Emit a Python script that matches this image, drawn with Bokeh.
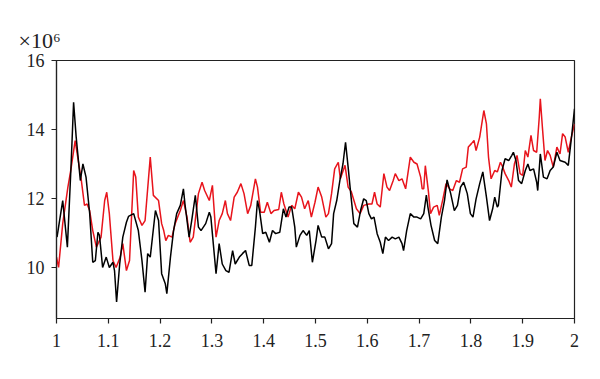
from bokeh.plotting import figure
from bokeh.models import Range1d, FixedTicker, Title
from bokeh.embed import file_html
from bokeh.resources import INLINE

# x positions and values (×10^6) of the black series
black_x = [1.001, 1.012, 1.021, 1.028, 1.033, 1.038, 1.046, 1.051, 1.057, 1.064,
           1.070, 1.075, 1.080, 1.083, 1.089, 1.096, 1.102, 1.109, 1.112, 1.116,
           1.122, 1.128, 1.135, 1.139, 1.149, 1.158, 1.165, 1.171, 1.176, 1.181,
           1.191, 1.197, 1.203, 1.210, 1.213, 1.220, 1.226, 1.232, 1.239, 1.245,
           1.248, 1.256, 1.261, 1.268, 1.274, 1.279, 1.288, 1.295, 1.298, 1.308,
           1.314, 1.320, 1.327, 1.333, 1.340, 1.345, 1.353, 1.359, 1.365, 1.372,
           1.377, 1.384, 1.388, 1.392, 1.398, 1.404, 1.411, 1.417, 1.423, 1.431,
           1.438, 1.443, 1.449, 1.454, 1.460, 1.463, 1.470, 1.476, 1.483, 1.488,
           1.494, 1.501, 1.505, 1.512, 1.518, 1.525, 1.531, 1.535, 1.541, 1.547,
           1.553, 1.558, 1.563, 1.568, 1.574, 1.581, 1.587, 1.593, 1.598, 1.603,
           1.608, 1.613, 1.619, 1.625, 1.630, 1.635, 1.641, 1.648, 1.654, 1.661,
           1.667, 1.670, 1.676, 1.683, 1.690, 1.696, 1.703, 1.709, 1.714, 1.717,
           1.723, 1.730, 1.736, 1.743, 1.749, 1.754, 1.761, 1.768, 1.774, 1.780,
           1.786, 1.793, 1.799, 1.804, 1.810, 1.817, 1.823, 1.830, 1.836, 1.842,
           1.846, 1.851, 1.853, 1.860, 1.866, 1.873, 1.879, 1.882, 1.887, 1.892,
           1.898, 1.905, 1.910, 1.914, 1.921, 1.927, 1.929, 1.934, 1.940, 1.947,
           1.953, 1.959, 1.966, 1.972, 1.982, 1.988, 1.995, 2.000]
black_y = [10.88, 11.94, 10.59, 12.91, 14.79, 13.78, 12.52, 13.00, 12.62, 11.57,
           10.15, 10.20, 11.02, 10.93, 10.00, 10.30, 10.00, 10.15, 9.91, 9.00,
           10.10, 10.88, 11.31, 11.48, 11.56, 11.07, 10.20, 9.28, 10.40, 10.30,
           11.65, 11.36, 9.82, 9.53, 9.24, 10.30, 11.07, 11.56, 11.80, 12.28,
           11.84, 10.88, 11.36, 12.09, 11.17, 11.07, 11.27, 11.60, 11.46, 9.82,
           10.69, 10.10, 9.91, 9.86, 10.49, 10.10, 10.30, 10.40, 10.49, 10.06,
           10.06, 11.17, 11.94, 11.65, 10.98, 11.02, 10.73, 11.07, 10.98, 11.02,
           11.70, 11.46, 11.75, 11.75, 11.17, 10.59, 10.93, 11.07, 10.93, 11.07,
           10.15, 10.78, 11.22, 10.88, 10.88, 10.54, 10.69, 11.56, 11.94, 12.52,
           13.00, 13.63, 12.91, 12.14, 11.27, 11.17, 11.65, 11.99, 11.94, 11.56,
           11.41, 11.46, 10.98, 10.73, 10.40, 10.88, 10.78, 10.88, 10.83, 10.88,
           10.69, 10.49, 11.07, 11.56, 11.46, 11.46, 11.41, 11.56, 12.10, 11.75,
           11.22, 10.78, 10.69, 11.46, 11.94, 12.54, 12.14, 11.65, 11.80, 12.33,
           12.47, 12.14, 11.56, 11.46, 11.99, 12.43, 12.77, 12.04, 11.36, 11.70,
           12.04, 11.75, 11.80, 12.81, 13.15, 13.10, 13.25, 13.34, 13.10, 12.52,
           12.43, 12.81, 13.00, 12.81, 12.86, 12.47, 12.23, 13.29, 12.62, 12.57,
           12.81, 12.91, 13.34, 13.10, 13.05, 12.96, 13.88, 14.60]

# x positions and values (×10^6) of the red series
red_x = [1.000, 1.004, 1.012, 1.022, 1.028, 1.036, 1.041, 1.048, 1.054, 1.059,
         1.064, 1.070, 1.077, 1.086, 1.093, 1.097, 1.102, 1.109, 1.115, 1.123,
         1.128, 1.135, 1.141, 1.149, 1.153, 1.158, 1.165, 1.171, 1.181, 1.187,
         1.197, 1.203, 1.207, 1.211, 1.216, 1.223, 1.229, 1.239, 1.245, 1.252,
         1.258, 1.264, 1.274, 1.281, 1.286, 1.295, 1.301, 1.308, 1.314, 1.320,
         1.326, 1.330, 1.336, 1.343, 1.349, 1.356, 1.362, 1.369, 1.375, 1.384,
         1.388, 1.394, 1.401, 1.407, 1.414, 1.420, 1.429, 1.434, 1.439, 1.447,
         1.454, 1.460, 1.467, 1.473, 1.479, 1.486, 1.492, 1.499, 1.505, 1.512,
         1.520, 1.525, 1.531, 1.537, 1.544, 1.548, 1.557, 1.563, 1.569, 1.579,
         1.586, 1.593, 1.603, 1.609, 1.614, 1.619, 1.625, 1.632, 1.638, 1.643,
         1.650, 1.654, 1.661, 1.667, 1.674, 1.683, 1.690, 1.696, 1.703, 1.706,
         1.709, 1.712, 1.718, 1.722, 1.728, 1.735, 1.739, 1.746, 1.752, 1.759,
         1.765, 1.772, 1.778, 1.784, 1.791, 1.795, 1.801, 1.806, 1.810, 1.817,
         1.821, 1.825, 1.830, 1.834, 1.839, 1.846, 1.851, 1.857, 1.860, 1.866,
         1.873, 1.878, 1.884, 1.889, 1.895, 1.900, 1.905, 1.910, 1.916, 1.921,
         1.927, 1.932, 1.934, 1.938, 1.943, 1.948, 1.953, 1.959, 1.966, 1.972,
         1.977, 1.982, 1.988, 1.994, 2.000]
red_y = [10.30, 10.00, 11.27, 12.33, 12.86, 13.68, 13.20, 12.52, 11.80, 11.84,
         11.65, 11.07, 10.59, 10.88, 11.94, 12.18, 11.56, 10.20, 10.00, 10.30,
         10.69, 9.91, 10.20, 12.81, 12.62, 11.46, 11.22, 11.36, 13.20, 12.09,
         11.94, 11.27, 11.07, 10.78, 10.93, 10.88, 11.27, 11.65, 11.94, 11.46,
         10.73, 10.88, 12.14, 12.47, 12.23, 11.94, 12.38, 10.88, 11.36, 11.56,
         11.94, 11.56, 11.36, 12.04, 12.18, 12.43, 12.14, 11.56, 11.80, 12.57,
         12.33, 11.60, 11.60, 11.89, 11.56, 11.65, 11.68, 12.18, 11.84, 11.46,
         11.80, 11.70, 12.18, 12.04, 11.70, 11.94, 11.46, 11.89, 12.33, 12.04,
         11.46, 11.56, 12.14, 12.86, 13.05, 12.57, 12.96, 12.33, 12.20, 11.70,
         11.56, 11.80, 11.84, 11.84, 12.18, 11.84, 11.75, 12.72, 12.33, 12.23,
         12.52, 12.72, 12.52, 12.57, 12.28, 13.20, 13.05, 13.00, 12.62, 12.28,
         12.28, 12.95, 12.20, 11.56, 11.75, 11.80, 11.51, 11.99, 12.43, 12.28,
         12.23, 12.52, 12.47, 12.86, 12.91, 13.49, 13.59, 13.68, 13.39, 13.78,
         14.16, 14.55, 14.16, 13.20, 12.57, 12.81, 12.77, 13.05, 12.96, 12.72,
         12.52, 12.33, 13.00, 13.25, 12.72, 12.67, 13.39, 13.20, 13.83, 13.39,
         13.34, 14.36, 14.89, 14.07, 13.10, 13.39, 13.25, 12.91, 13.49, 13.29,
         13.88, 13.78, 13.34, 13.78, 14.16]

x_ticks = [1.0, 1.1, 1.2, 1.3, 1.4, 1.5, 1.6, 1.7, 1.8, 1.9, 2.0]
y_ticks = [10, 12, 14, 16]
x_tick_labels = {1.0: "1", 1.1: "1.1", 1.2: "1.2", 1.3: "1.3", 1.4: "1.4", 1.5: "1.5",
                 1.6: "1.6", 1.7: "1.7", 1.8: "1.8", 1.9: "1.9", 2.0: "2"}
scale_text = "×10⁶"

FONT = "Liberation Serif"

p = figure(width=592, height=371, output_backend="svg", toolbar_location=None,
           x_range=Range1d(1, 2), y_range=Range1d(8.52, 16),
           min_border_left=56, min_border_right=18, min_border_top=60, min_border_bottom=53)

p.line(red_x, red_y, line_color="#e8141c", line_width=1.5)
p.line(black_x, black_y, line_color="black", line_width=1.5)

p.xgrid.visible = False
p.ygrid.visible = False
p.outline_line_color = "#222222"
p.outline_line_width = 1.2

for ax in (p.xaxis[0], p.yaxis[0]):
    ax.axis_line_color = "#222222"
    ax.axis_line_width = 1.2
    ax.major_tick_line_color = "#222222"
    ax.major_tick_line_width = 1.2
    ax.major_tick_out = 5
    ax.major_tick_in = 0
    ax.minor_tick_line_color = None
    ax.major_label_text_font = FONT
    ax.major_label_text_font_size = "18px"
    ax.major_label_text_color = "#222222"

p.xaxis.ticker = FixedTicker(ticks=x_ticks)
p.xaxis.major_label_overrides = x_tick_labels
p.xaxis.major_label_standoff = 10
p.yaxis.ticker = FixedTicker(ticks=y_ticks)
p.yaxis.major_label_standoff = 7

p.add_layout(Title(text=scale_text, align="left", offset=-38, standoff=15,
                   text_font=FONT, text_font_size="22px", text_font_style="normal",
                   text_color="#222222"), "above")

open("out.html", "w").write(file_html(p, INLINE))
